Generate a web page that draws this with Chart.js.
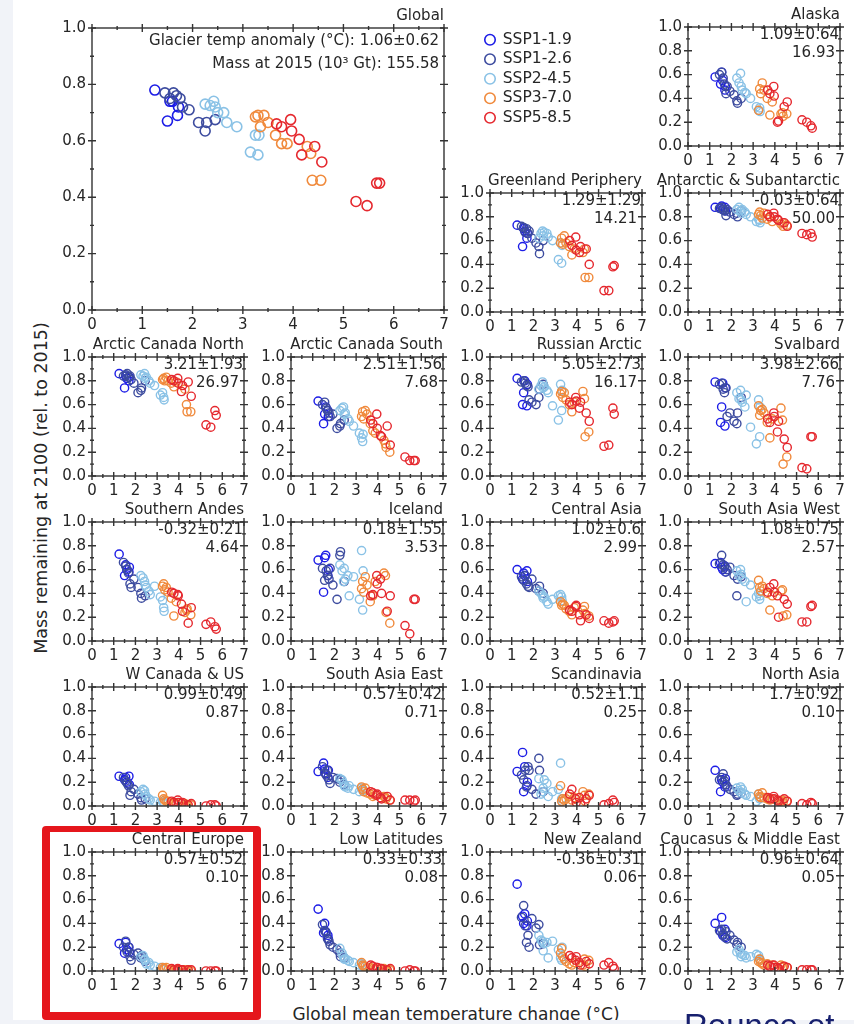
<!DOCTYPE html>
<html>
<head>
<meta charset="utf-8">
<script src="https://cdn.jsdelivr.net/npm/chart.js@4.4.1/dist/chart.umd.min.js"></script>
<style>
  html, body { margin: 0; padding: 0; }
  body { width: 854px; height: 1024px; position: relative; overflow: hidden; background: #fff;
         font-family: 'DejaVu Sans', sans-serif; color: #262626; }
  canvas { position: absolute; }
  .ylabel { position: absolute; left: 41px; top: 488px; font-size: 17.5px; white-space: nowrap;
            transform: translate(-50%, -50%) rotate(-90deg); }
  .xlabel { position: absolute; left: 456px; top: 1006px; font-size: 17px; line-height: 17px;
            white-space: nowrap; transform: translateX(-50%); }
  .strip-left { position: absolute; left: 0; top: 0; width: 13px; height: 1024px; background: #f1f3f8; }
  .strip-bottom { position: absolute; left: 0; top: 1020px; width: 854px; height: 4px; background: #f1f3f8; }
  .highlight { position: absolute; left: 42px; top: 826px; width: 219px; height: 194px; box-sizing: border-box;
               border: 8px solid #e5161c; border-top-width: 6px; border-radius: 4px; }
  .cite { position: absolute; left: 684px; top: 1009px; font-family: 'Liberation Sans', sans-serif;
          font-size: 33px; line-height: 33px; color: #17206e; white-space: nowrap; }
</style>
</head>
<body>
<div class="ylabel">Mass remaining at 2100 (rel. to 2015)</div>
<div class="xlabel">Global mean temperature change (°C)</div>
<script>
// --- data ---
const scenarios = ['SSP1-1.9', 'SSP1-2.6', 'SSP2-4.5', 'SSP3-7.0', 'SSP5-8.5'];
const colors = ['#1c1ce6', '#3d4c9f', '#8ac2e6', '#f08a3c', '#e5282e'];

// global mean temperature change per GCM (same for every region)
const tempSsp119 = [1.25, 1.50, 1.55, 1.60, 1.70, 1.72];
const tempSsp126 = [1.45, 1.55, 1.62, 1.68, 1.75, 1.80, 1.93, 2.12, 2.25, 2.28, 2.45];
const tempSsp245 = [2.25, 2.35, 2.42, 2.45, 2.50, 2.62, 2.68, 2.88, 3.15, 3.25, 3.30, 3.32];
const tempSsp370 = [3.25, 3.30, 3.35, 3.42, 3.50, 3.65, 3.77, 3.88, 4.28, 4.35, 4.38, 4.55];
const tempSsp585 = [3.67, 3.77, 3.95, 3.97, 4.12, 4.17, 4.43, 4.57, 5.25, 5.47, 5.66, 5.72];
const temps = [tempSsp119, tempSsp126, tempSsp245, tempSsp370, tempSsp585];

// mass remaining at 2100, one row per scenario
const massGlobal = [
  [0.78, 0.67, 0.74, 0.74, 0.69, 0.72],
  [0.77, 0.75, 0.77, 0.76, 0.75, 0.72, 0.71, 0.665, 0.635, 0.665, 0.675],
  [0.73, 0.725, 0.74, 0.72, 0.70, 0.70, 0.665, 0.65, 0.56, 0.62, 0.55, 0.62],
  [0.685, 0.69, 0.65, 0.69, 0.665, 0.62, 0.59, 0.59, 0.58, 0.555, 0.46, 0.46],
  [0.66, 0.65, 0.675, 0.635, 0.605, 0.55, 0.58, 0.525, 0.385, 0.37, 0.45, 0.45]
];
const massAlaska = [
  [0.58, 0.52, 0.62, 0.55, 0.47, 0.50],
  [0.60, 0.62, 0.57, 0.52, 0.44, 0.50, 0.46, 0.43, 0.38, 0.36, 0.40],
  [0.57, 0.53, 0.61, 0.50, 0.47, 0.45, 0.44, 0.40, 0.33, 0.30, 0.32, 0.29],
  [0.30, 0.48, 0.44, 0.53, 0.47, 0.40, 0.26, 0.37, 0.27, 0.28, 0.25, 0.27],
  [0.47, 0.44, 0.50, 0.42, 0.20, 0.21, 0.33, 0.37, 0.22, 0.20, 0.17, 0.15]
];
const massGreenland = [
  [0.73, 0.55, 0.70, 0.68, 0.62, 0.66],
  [0.72, 0.71, 0.67, 0.70, 0.66, 0.68, 0.62, 0.58, 0.55, 0.49, 0.60],
  [0.62, 0.66, 0.68, 0.64, 0.67, 0.66, 0.63, 0.60, 0.44, 0.58, 0.41, 0.56],
  [0.58, 0.62, 0.57, 0.64, 0.58, 0.55, 0.48, 0.53, 0.50, 0.53, 0.29, 0.29],
  [0.60, 0.56, 0.63, 0.52, 0.50, 0.55, 0.53, 0.40, 0.18, 0.18, 0.38, 0.39]
];
const massAntarctic = [
  [0.88, 0.87, 0.89, 0.86, 0.88, 0.85],
  [0.87, 0.88, 0.86, 0.85, 0.81, 0.86, 0.84, 0.82, 0.83, 0.80, 0.85],
  [0.86, 0.88, 0.85, 0.83, 0.86, 0.84, 0.82, 0.80, 0.76, 0.78, 0.77, 0.75],
  [0.82, 0.84, 0.81, 0.79, 0.83, 0.78, 0.80, 0.76, 0.74, 0.75, 0.72, 0.73],
  [0.82, 0.80, 0.83, 0.80, 0.78, 0.77, 0.75, 0.72, 0.66, 0.65, 0.66, 0.63]
];
const massArcticCanadaNorth = [
  [0.86, 0.74, 0.84, 0.82, 0.80, 0.83],
  [0.84, 0.85, 0.86, 0.83, 0.84, 0.81, 0.78, 0.70, 0.72, 0.74, 0.80],
  [0.85, 0.84, 0.86, 0.82, 0.83, 0.80, 0.78, 0.76, 0.68, 0.70, 0.66, 0.64],
  [0.81, 0.82, 0.80, 0.83, 0.80, 0.78, 0.75, 0.79, 0.73, 0.60, 0.54, 0.54],
  [0.81, 0.80, 0.82, 0.78, 0.71, 0.76, 0.79, 0.67, 0.43, 0.41, 0.55, 0.51]
];
const massArcticCanadaSouth = [
  [0.63, 0.44, 0.52, 0.58, 0.55, 0.50],
  [0.60, 0.62, 0.57, 0.55, 0.53, 0.50, 0.52, 0.40, 0.42, 0.44, 0.47],
  [0.55, 0.57, 0.58, 0.52, 0.53, 0.48, 0.46, 0.42, 0.36, 0.32, 0.29, 0.35],
  [0.50, 0.54, 0.48, 0.55, 0.52, 0.44, 0.38, 0.36, 0.30, 0.27, 0.24, 0.20],
  [0.47, 0.44, 0.52, 0.40, 0.34, 0.33, 0.42, 0.26, 0.16, 0.13, 0.13, 0.13]
];
const massRussianArctic = [
  [0.82, 0.60, 0.70, 0.80, 0.59, 0.77],
  [0.79, 0.80, 0.78, 0.76, 0.75, 0.64, 0.62, 0.60, 0.66, 0.73, 0.77],
  [0.73, 0.76, 0.79, 0.74, 0.75, 0.72, 0.70, 0.59, 0.47, 0.77, 0.55, 0.72],
  [0.69, 0.71, 0.66, 0.70, 0.64, 0.60, 0.54, 0.62, 0.71, 0.65, 0.33, 0.37],
  [0.62, 0.60, 0.66, 0.63, 0.57, 0.62, 0.53, 0.46, 0.25, 0.26, 0.57, 0.52]
];
const massSvalbard = [
  [0.79, 0.45, 0.58, 0.78, 0.42, 0.74],
  [0.77, 0.78, 0.73, 0.70, 0.74, 0.50, 0.53, 0.46, 0.44, 0.53, 0.66],
  [0.70, 0.65, 0.72, 0.64, 0.62, 0.58, 0.68, 0.41, 0.27, 0.64, 0.33, 0.58],
  [0.59, 0.51, 0.55, 0.56, 0.53, 0.45, 0.32, 0.48, 0.57, 0.47, 0.10, 0.16],
  [0.48, 0.45, 0.53, 0.50, 0.37, 0.46, 0.31, 0.24, 0.07, 0.06, 0.33, 0.33]
];
const massSouthernAndes = [
  [0.73, 0.55, 0.64, 0.60, 0.58, 0.62],
  [0.66, 0.63, 0.60, 0.57, 0.48, 0.45, 0.52, 0.45, 0.40, 0.36, 0.38],
  [0.55, 0.53, 0.50, 0.47, 0.45, 0.42, 0.39, 0.46, 0.37, 0.34, 0.28, 0.25],
  [0.46, 0.48, 0.43, 0.45, 0.41, 0.36, 0.21, 0.33, 0.24, 0.26, 0.27, 0.22],
  [0.41, 0.40, 0.39, 0.38, 0.31, 0.25, 0.15, 0.28, 0.14, 0.16, 0.12, 0.10]
];
const massIceland = [
  [0.68, 0.41, 0.70, 0.72, 0.55, 0.60],
  [0.61, 0.51, 0.59, 0.55, 0.52, 0.61, 0.47, 0.35, 0.72, 0.75, 0.50],
  [0.64, 0.59, 0.50, 0.61, 0.52, 0.55, 0.38, 0.54, 0.35, 0.76, 0.26, 0.59],
  [0.44, 0.50, 0.41, 0.54, 0.47, 0.33, 0.38, 0.50, 0.57, 0.55, 0.24, 0.15],
  [0.38, 0.39, 0.55, 0.48, 0.52, 0.40, 0.25, 0.38, 0.13, 0.06, 0.35, 0.35]
];
const massCentralAsia = [
  [0.60, 0.52, 0.57, 0.55, 0.59, 0.50],
  [0.54, 0.51, 0.55, 0.48, 0.46, 0.45, 0.52, 0.44, 0.42, 0.46, 0.40],
  [0.42, 0.40, 0.38, 0.36, 0.37, 0.33, 0.31, 0.35, 0.38, 0.39, 0.37, 0.34],
  [0.33, 0.30, 0.31, 0.30, 0.27, 0.25, 0.22, 0.28, 0.26, 0.29, 0.23, 0.21],
  [0.26, 0.25, 0.29, 0.30, 0.22, 0.17, 0.22, 0.19, 0.17, 0.15, 0.16, 0.17]
];
const massSouthAsiaWest = [
  [0.65, 0.66, 0.62, 0.60, 0.63, 0.58],
  [0.65, 0.72, 0.64, 0.62, 0.58, 0.60, 0.62, 0.55, 0.38, 0.52, 0.54],
  [0.59, 0.55, 0.60, 0.56, 0.52, 0.50, 0.33, 0.47, 0.37, 0.40, 0.35, 0.38],
  [0.51, 0.45, 0.42, 0.46, 0.44, 0.40, 0.26, 0.38, 0.42, 0.43, 0.21, 0.22],
  [0.41, 0.45, 0.48, 0.41, 0.38, 0.20, 0.35, 0.31, 0.16, 0.16, 0.29, 0.30]
];
const massWCanadaUS = [
  [0.25, 0.22, 0.24, 0.20, 0.25, 0.18],
  [0.24, 0.21, 0.19, 0.17, 0.09, 0.12, 0.14, 0.10, 0.07, 0.05, 0.06],
  [0.12, 0.14, 0.13, 0.10, 0.08, 0.06, 0.05, 0.04, 0.03, 0.04, 0.02, 0.03],
  [0.09, 0.06, 0.05, 0.04, 0.04, 0.03, 0.02, 0.02, 0.02, 0.01, 0.01, 0.01],
  [0.04, 0.03, 0.05, 0.03, 0.02, 0.03, 0.01, 0.02, 0.00, 0.01, 0.01, 0.00]
];
const massSouthAsiaEast = [
  [0.29, 0.36, 0.31, 0.27, 0.24, 0.30],
  [0.33, 0.28, 0.26, 0.30, 0.22, 0.19, 0.24, 0.23, 0.20, 0.22, 0.18],
  [0.23, 0.22, 0.19, 0.17, 0.16, 0.15, 0.17, 0.14, 0.12, 0.15, 0.13, 0.14],
  [0.16, 0.14, 0.12, 0.15, 0.11, 0.10, 0.08, 0.09, 0.08, 0.07, 0.06, 0.05],
  [0.12, 0.11, 0.09, 0.10, 0.07, 0.06, 0.08, 0.05, 0.05, 0.05, 0.04, 0.05]
];
const massScandinavia = [
  [0.29, 0.45, 0.12, 0.33, 0.17, 0.20],
  [0.26, 0.22, 0.30, 0.16, 0.33, 0.30, 0.14, 0.10, 0.40, 0.30, 0.12],
  [0.23, 0.10, 0.12, 0.15, 0.22, 0.19, 0.08, 0.12, 0.14, 0.36, 0.06, 0.04],
  [0.17, 0.04, 0.06, 0.05, 0.06, 0.08, 0.05, 0.07, 0.12, 0.09, 0.04, 0.10],
  [0.10, 0.14, 0.06, 0.03, 0.07, 0.02, 0.06, 0.09, 0.01, 0.02, 0.05, 0.03]
];
const massNorthAsia = [
  [0.30, 0.12, 0.22, 0.20, 0.16, 0.23],
  [0.22, 0.24, 0.27, 0.21, 0.18, 0.16, 0.14, 0.12, 0.09, 0.10, 0.11],
  [0.15, 0.13, 0.16, 0.11, 0.14, 0.10, 0.09, 0.08, 0.04, 0.10, 0.06, 0.07],
  [0.10, 0.08, 0.07, 0.11, 0.07, 0.06, 0.05, 0.06, 0.04, 0.05, 0.03, 0.04],
  [0.07, 0.06, 0.08, 0.06, 0.05, 0.04, 0.06, 0.04, 0.02, 0.01, 0.03, 0.02]
];
const massCentralEurope = [
  [0.23, 0.15, 0.24, 0.18, 0.20, 0.16],
  [0.20, 0.25, 0.16, 0.20, 0.12, 0.09, 0.14, 0.15, 0.11, 0.13, 0.08],
  [0.12, 0.13, 0.10, 0.09, 0.06, 0.07, 0.05, 0.04, 0.03, 0.03, 0.02, 0.02],
  [0.03, 0.02, 0.02, 0.03, 0.01, 0.01, 0.01, 0.01, 0.01, 0.00, 0.01, 0.00],
  [0.02, 0.01, 0.02, 0.01, 0.01, 0.01, 0.01, 0.01, 0.00, 0.00, 0.00, 0.00]
];
const massLowLatitudes = [
  [0.52, 0.32, 0.40, 0.33, 0.30, 0.27],
  [0.39, 0.34, 0.32, 0.27, 0.25, 0.22, 0.20, 0.18, 0.15, 0.12, 0.11],
  [0.19, 0.15, 0.12, 0.10, 0.10, 0.09, 0.08, 0.07, 0.05, 0.06, 0.04, 0.05],
  [0.07, 0.05, 0.04, 0.04, 0.03, 0.03, 0.02, 0.02, 0.02, 0.01, 0.01, 0.01],
  [0.05, 0.04, 0.03, 0.03, 0.02, 0.02, 0.01, 0.02, 0.00, 0.01, 0.00, 0.00]
];
const massNewZealand = [
  [0.73, 0.46, 0.40, 0.48, 0.38, 0.42],
  [0.45, 0.55, 0.38, 0.24, 0.30, 0.20, 0.44, 0.36, 0.39, 0.22, 0.23],
  [0.30, 0.26, 0.25, 0.17, 0.23, 0.24, 0.11, 0.25, 0.18, 0.11, 0.09, 0.20],
  [0.15, 0.19, 0.12, 0.10, 0.08, 0.06, 0.05, 0.07, 0.05, 0.10, 0.04, 0.09],
  [0.13, 0.11, 0.09, 0.12, 0.07, 0.05, 0.08, 0.06, 0.05, 0.07, 0.04, 0.02]
];
const massCaucasus = [
  [0.40, 0.33, 0.45, 0.30, 0.35, 0.28],
  [0.34, 0.35, 0.31, 0.29, 0.33, 0.27, 0.30, 0.26, 0.22, 0.24, 0.20],
  [0.16, 0.18, 0.15, 0.12, 0.14, 0.13, 0.11, 0.12, 0.14, 0.13, 0.10, 0.09],
  [0.08, 0.10, 0.07, 0.06, 0.05, 0.06, 0.04, 0.05, 0.05, 0.03, 0.04, 0.03],
  [0.05, 0.04, 0.05, 0.03, 0.03, 0.02, 0.04, 0.03, 0.01, 0.01, 0.01, 0.01]
];

const regionNames = ['Alaska', 'Greenland Periphery', 'Antarctic & Subantarctic',
  'Arctic Canada North', 'Arctic Canada South', 'Russian Arctic', 'Svalbard',
  'Southern Andes', 'Iceland', 'Central Asia', 'South Asia West',
  'W Canada & US', 'South Asia East', 'Scandinavia', 'North Asia',
  'Central Europe', 'Low Latitudes', 'New Zealand', 'Caucasus & Middle East'];
const tempAnomaly = ['1.09±0.64', '1.29±1.29', '-0.03±0.64',
  '3.21±1.93', '2.51±1.56', '5.05±2.73', '3.98±2.66',
  '-0.32±0.21', '0.18±1.55', '1.02±0.6', '1.08±0.75',
  '0.99±0.49', '0.57±0.42', '0.52±1.1', '1.7±0.92',
  '0.57±0.52', '0.33±0.33', '-0.36±0.31', '0.96±0.64'];
const mass2015 = ['16.93', '14.21', '50.00',
  '26.97', '7.68', '16.17', '7.76',
  '4.64', '3.53', '2.99', '2.57',
  '0.87', '0.71', '0.25', '0.10',
  '0.10', '0.08', '0.06', '0.05'];
const regionMass = [massAlaska, massGreenland, massAntarctic,
  massArcticCanadaNorth, massArcticCanadaSouth, massRussianArctic, massSvalbard,
  massSouthernAndes, massIceland, massCentralAsia, massSouthAsiaWest,
  massWCanadaUS, massSouthAsiaEast, massScandinavia, massNorthAsia,
  massCentralEurope, massLowLatitudes, massNewZealand, massCaucasus];

// --- layout ---
const colLeft = [92, 291, 490, 688];
const rowTop = [27, 193, 357, 522, 687, 852];
const slots = [[3, 0], [2, 1], [3, 1], [0, 2], [1, 2], [2, 2], [3, 2], [0, 3], [1, 3], [2, 3], [3, 3],
  [0, 4], [1, 4], [2, 4], [3, 4], [0, 5], [1, 5], [2, 5], [3, 5]];

const fontFamily = "'DejaVu Sans', sans-serif";
const textColor = '#262626';
const frameColor = '#333333';
const margin = { l: 50, r: 12, t: 30, b: 26 };

// frame with in-out ticks on all four sides, right-aligned title and notes
function decor(title, notes, big) {
  return {
    id: 'decor',
    afterDatasetsDraw(chart) {
      const { ctx, chartArea: a, scales } = chart;
      ctx.save();
      ctx.strokeStyle = frameColor;
      ctx.lineWidth = 1.4;
      ctx.strokeRect(a.left, a.top, a.right - a.left, a.bottom - a.top);
      ctx.beginPath();
      for (let k = 0; k <= 14; k++) {
        const px = scales.x.getPixelForValue(k / 2);
        const len = k % 2 ? 2 : 4;
        ctx.moveTo(px, a.bottom - len); ctx.lineTo(px, a.bottom + len);
        ctx.moveTo(px, a.top - len); ctx.lineTo(px, a.top + len);
      }
      for (let k = 0; k <= 10; k++) {
        const py = scales.y.getPixelForValue(k / 10);
        const len = k % 2 ? 2 : 4;
        ctx.moveTo(a.left - len, py); ctx.lineTo(a.left + len, py);
        ctx.moveTo(a.right - len, py); ctx.lineTo(a.right + len, py);
      }
      ctx.stroke();

      ctx.fillStyle = textColor;
      ctx.textAlign = 'right';
      ctx.textBaseline = 'middle';
      ctx.font = `15px ${fontFamily}`;
      ctx.fillText(title, a.right, a.top - 12);
      if (big) {
        ctx.fillText(notes[0], a.right - 5, a.top + 13);
        ctx.fillText(notes[1], a.right - 5, a.top + 36);
      } else {
        ctx.fillText(notes[0], a.right - 1, a.top + 8);
        ctx.fillText(notes[1], a.right - 5, a.top + 26);
      }
      ctx.restore();
    }
  };
}

function makePanel(x, y, w, h, title, notes, masses, big) {
  const canvas = document.createElement('canvas');
  const cw = w + margin.l + margin.r;
  const ch = h + margin.t + margin.b;
  canvas.width = cw; canvas.height = ch;
  canvas.style.width = cw + 'px'; canvas.style.height = ch + 'px';
  canvas.style.left = (x - margin.l) + 'px';
  canvas.style.top = (y - margin.t) + 'px';
  document.body.appendChild(canvas);

  const tickFont = { family: fontFamily, size: 15 };
  new Chart(canvas, {
    type: 'scatter',
    data: {
      datasets: masses.map((ys, i) => ({
        label: scenarios[i],
        data: temps[i].map((t, j) => ({ x: t, y: ys[j] })),
        borderColor: colors[i],
        backgroundColor: 'rgba(0,0,0,0)',
        pointRadius: big ? 5 : 4.1,
        pointBorderWidth: big ? 1.6 : 1.4,
        order: scenarios.length - i
      }))
    },
    options: {
      responsive: false,
      animation: false,
      devicePixelRatio: 1,
      layout: { padding: { left: 0, right: margin.r, top: margin.t, bottom: 0 } },
      plugins: { legend: { display: false }, tooltip: { enabled: false } },
      scales: {
        x: {
          type: 'linear', min: 0, max: 7,
          grid: { display: false, drawTicks: false }, border: { display: false },
          ticks: { stepSize: 1, padding: 6, color: textColor, font: tickFont, maxRotation: 0, autoSkip: false },
          afterFit: s => { s.height = margin.b; }
        },
        y: {
          min: 0, max: 1,
          grid: { display: false, drawTicks: false }, border: { display: false },
          ticks: { stepSize: 0.2, padding: 6, color: textColor, font: tickFont, callback: v => v.toFixed(1) },
          afterFit: s => { s.width = margin.l; }
        }
      }
    },
    plugins: [decor(title, notes, big)]
  });
}

makePanel(92, 28, 352, 282, 'Global',
  ['Glacier temp anomaly (°C): 1.06±0.62', 'Mass at 2015 (10³ Gt): 155.58'], massGlobal, true);

regionNames.forEach((name, i) => {
  const [c, r] = slots[i];
  makePanel(colLeft[c], rowTop[r], 152, 119, name, [tempAnomaly[i], mass2015[i]], regionMass[i], false);
});

// legend as its own chart
const legendCanvas = document.createElement('canvas');
legendCanvas.width = 240; legendCanvas.height = 110;
legendCanvas.style.width = '240px'; legendCanvas.style.height = '110px';
legendCanvas.style.left = '481px'; legendCanvas.style.top = '28px';
document.body.appendChild(legendCanvas);
new Chart(legendCanvas, {
  type: 'scatter',
  data: {
    datasets: scenarios.map((s, i) => ({
      label: s, data: [], borderColor: colors[i], backgroundColor: 'rgba(0,0,0,0)',
      pointStyle: 'circle', pointBorderWidth: 1.6
    }))
  },
  options: {
    responsive: false, animation: false, devicePixelRatio: 1,
    layout: { padding: 0 },
    scales: { x: { display: false }, y: { display: false } },
    plugins: {
      tooltip: { enabled: false },
      legend: {
        position: 'left', align: 'start',
        labels: {
          usePointStyle: true, boxWidth: 10, boxHeight: 7.4, padding: 4,
          color: textColor, font: { family: fontFamily, size: 15.5 }
        }
      }
    }
  }
});

['strip-left', 'strip-bottom', 'highlight'].forEach(cls => {
  const d = document.createElement('div');
  d.className = cls;
  document.body.appendChild(d);
});
const cite = document.createElement('div');
cite.className = 'cite';
cite.textContent = 'Rounce et';
document.body.appendChild(cite);
</script>
</body>
</html>
